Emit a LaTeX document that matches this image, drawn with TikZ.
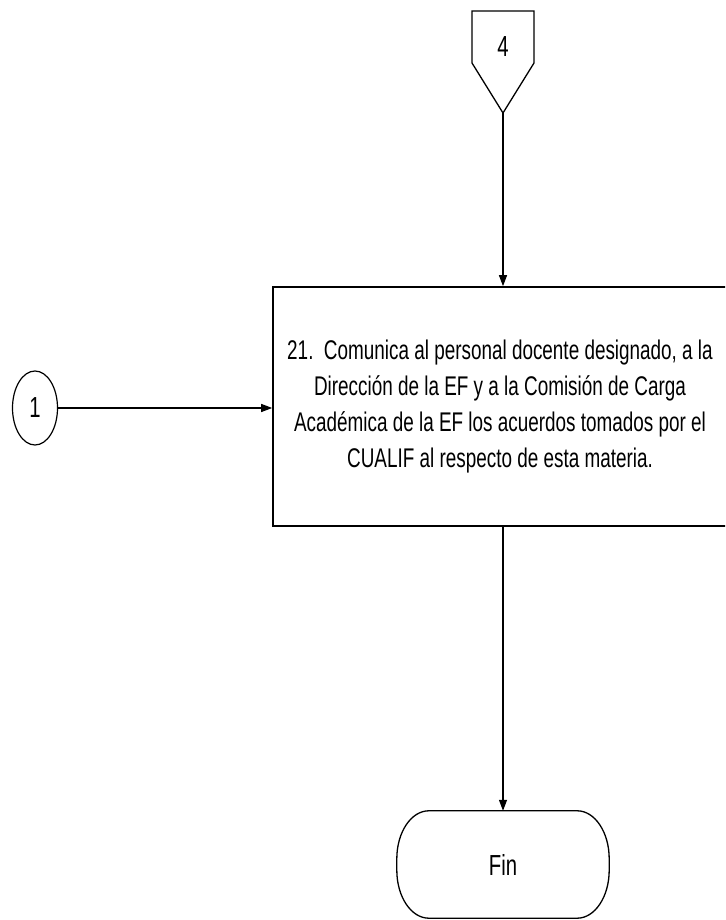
\documentclass[tikz,border=0pt]{standalone}
\usepackage{fontspec}
\setmainfont{Liberation Sans}[FakeStretch=0.70]
\usetikzlibrary{arrows.meta,shapes.geometric}
\begin{document}
\begin{tikzpicture}[x=1pt,y=1pt,
  shapeline/.style={line width=1.3pt},
  arr/.style={line width=1.2pt,-{Triangle[length=11pt,width=8pt]}},
  lbl/.style={font=\fontsize{29}{31}\selectfont},
  procbox/.style={draw,line width=1.6pt,minimum width=454pt,minimum height=239pt,inner sep=0pt,
    align=center,font=\fontsize{27}{36.3}\selectfont}]
\useasboundingbox (0,0) rectangle (725,920);
\clip (0,0) rectangle (725,920);
% process box (right edge falls outside the picture)
\node[procbox] (box) at (500,513.5) {21.\ \ Comunica al personal docente designado, a la\\Dirección de la EF y a la Comisión de Carga\\Académica de la EF los acuerdos tomados por el\\CUALIF al respecto de esta materia.};
% off-page connector 4
\draw[shapeline] (472,909) -- (534,909) -- (534,857) -- (503,807) -- (472,857) -- cycle;
\node[lbl] (p4) at (503,873) {4};
\coordinate (p4tip) at (503,807);
% on-page connector 1
\node[draw,ellipse,line width=1.2pt,minimum width=45pt,minimum height=74pt,inner sep=0pt,lbl] (c1) at (35,512) {1};
% terminator
\node[minimum width=212pt,minimum height=107pt,inner sep=0pt,lbl] (fin) at (503,55.5) {Fin};
\draw[shapeline] ([xshift=32pt]fin.north west) -- ([xshift=-32pt]fin.north east)
  arc[start angle=90,end angle=0,x radius=32pt,y radius=48pt]
  -- ([yshift=48pt]fin.south east)
  arc[start angle=0,end angle=-90,x radius=32pt,y radius=48pt]
  -- ([xshift=32pt]fin.south west)
  arc[start angle=270,end angle=180,x radius=32pt,y radius=48pt]
  -- ([yshift=-48pt]fin.north west)
  arc[start angle=180,end angle=90,x radius=32pt,y radius=48pt] -- cycle;
% connectors
\draw[arr] (p4tip) -- (p4tip |- box.north);
\draw[arr] (c1.east) -- (c1.east -| box.west);
\draw[arr] (fin.north |- box.south) -- (fin.north);
\end{tikzpicture}
\end{document}
